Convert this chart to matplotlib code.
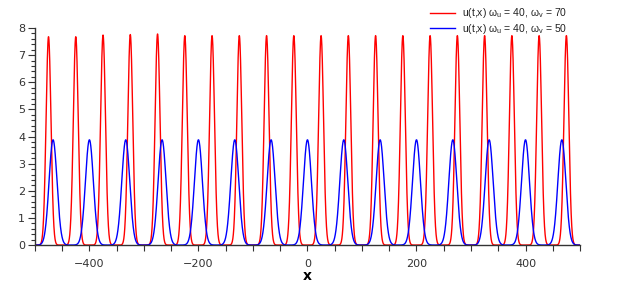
import numpy as np
import matplotlib
matplotlib.use("Agg")
import matplotlib.pyplot as plt
from matplotlib.ticker import MultipleLocator

# Peak data
red_centers = [-475, -425, -375, -325, -275, -225, -175, -125, -75, -25,
               25, 75, 125, 175, 225, 275, 325, 375, 425, 475]
red_heights = [7.68, 7.68, 7.74, 7.76, 7.78, 7.72, 7.72, 7.72, 7.72, 7.72,
               7.72, 7.72, 7.72, 7.72, 7.72, 7.72, 7.72, 7.72, 7.72, 7.72]
red_width = 4.5
blue_centers = [-466.7, -400, -333.3, -266.7, -200, -133.3, -66.7, 0,
                66.7, 133.3, 200, 266.7, 333.3, 400, 466.7]
blue_heights = [3.88] * 15
blue_width = 7.3

x_range = (-500, 500)
label_red = r"u(t,x) ω$_\mathregular{u}$ = 40, ω$_\mathregular{v}$ = 70"
label_blue = r"u(t,x) ω$_\mathregular{u}$ = 40, ω$_\mathregular{v}$ = 50"

x = np.linspace(x_range[0], x_range[1], 8001)

def train(centers, heights, w):
    y = np.zeros_like(x)
    for c, h in zip(centers, heights):
        y += h * np.exp(-0.5 * ((x - c) / w) ** 2)
    return y

plt.rcParams['font.family'] = ['DejaVu Sans']
fig = plt.figure(figsize=(6.23, 2.89), dpi=100)
ax = fig.add_axes([0.056, 0.152, 0.875, 0.751])
ax.plot(x, train(red_centers, red_heights, red_width), color='#ff0000', lw=1.0, label=label_red)
ax.plot(x, train(blue_centers, blue_heights, blue_width), color='#0000ff', lw=1.0, label=label_blue)

ax.set_xlim(*x_range)
ax.set_ylim(0, 8)
ax.xaxis.set_major_locator(MultipleLocator(200))
ax.xaxis.set_minor_locator(MultipleLocator(50))
ax.yaxis.set_major_locator(MultipleLocator(1))
ax.yaxis.set_minor_locator(MultipleLocator(0.2))
for s in ['top', 'right']:
    ax.spines[s].set_visible(False)
for s in ['left', 'bottom']:
    ax.spines[s].set_color('#333333')
    ax.spines[s].set_linewidth(1.0)
ax.tick_params(which='major', length=5, width=0.8, color='#333333', labelsize=8, labelcolor='#333333', pad=2)
ax.tick_params(which='minor', length=3, width=0.8, color='#333333')
ax.tick_params(axis='x', which='both', length=4)
ax.tick_params(axis='x', which='major', pad=6)
ax.set_xlabel('x', fontsize=10, fontweight='bold', labelpad=0)

leg = ax.legend(loc='upper left', bbox_to_anchor=(0.725, 1.1), frameon=False,
                prop={'family': ['Liberation Sans'], 'size': 7.5},
                handlelength=2.4, handletextpad=0.7, labelspacing=0.12, borderaxespad=0,
                borderpad=0)
for t in leg.get_texts():
    t.set_color('#222222')
fig.savefig('out.png', dpi=100)
